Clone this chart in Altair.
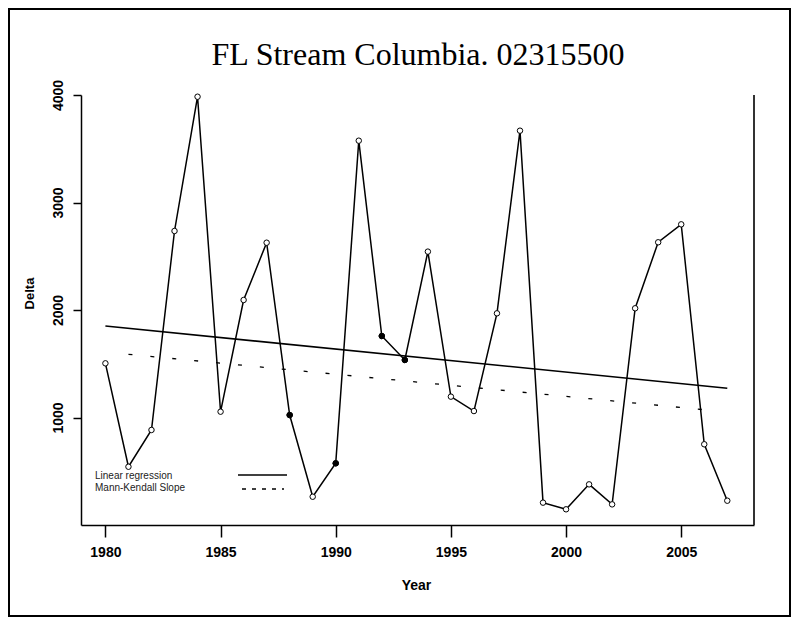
import altair as alt
import pandas as pd

# ---- data ----
years = list(range(1980, 2008))
delta = [1504, 542, 884, 2735, 3984, 1054, 2093, 2626, 1023, 263,
         574, 3575, 1758, 1535, 2543, 1194, 1060, 1969, 3668, 208,
         146, 378, 192, 2016, 2630, 2797, 751, 226]
filled_years = [1988, 1990, 1992, 1993]
linreg_years = [1980, 2007]
linreg_vals = [1851, 1272]
mk_years = [1981, 2006.6]
mk_vals = [1588, 1060]
x_ticks = [1980, 1985, 1990, 1995, 2000, 2005]
y_ticks = [1000, 2000, 3000, 4000]
legend_labels = ["Linear regression", "Mann-Kendall Slope"]
title_text = "FL Stream Columbia. 02315500"

df = pd.DataFrame({"year": years, "delta": delta})
df_f = df[df["year"].isin(filled_years)]
df_lr = pd.DataFrame({"year": linreg_years, "delta": linreg_vals})
df_mk = pd.DataFrame({"year": mk_years, "delta": mk_vals})

W, H = 673, 430
PAD = {"left": 73, "top": 87, "right": 37, "bottom": 92}

xs = alt.Scale(domain=[1978.94, 2008.16], nice=False, zero=False)
ys = alt.Scale(domain=[0, 4000], nice=False)
FONT = "Liberation Sans"

x_enc = alt.X("year:Q", scale=xs, axis=alt.Axis(
    values=x_ticks, format="d", title="Year", grid=False,
    labelFont=FONT, labelFontSize=14, labelFontWeight="bold", labelColor="black",
    tickSize=12, tickColor="black", tickWidth=1.5, labelPadding=8,
    domainColor="black", domainWidth=1.5,
    titleFont=FONT, titleFontSize=14, titleFontWeight="bold", titleColor="black",
    titleX=335, titleY=60, titleBaseline="middle", titleAlign="center"))
y_enc = alt.Y("delta:Q", scale=ys, axis=alt.Axis(
    values=y_ticks, format="d", title="Delta", grid=False,
    labelFont=FONT, labelFontSize=14, labelFontWeight="bold", labelColor="black",
    labelAngle=270, labelAlign="center", labelBaseline="bottom",
    tickSize=8, tickColor="black", tickWidth=1.5, labelPadding=8,
    domainColor="black", domainWidth=1.5,
    titleFont=FONT, titleFontSize=13, titleFontWeight="bold", titleColor="black",
    titleAngle=270, titleX=-52, titleY=198, titleBaseline="middle", titleAlign="center"))

line = alt.Chart(df).mark_line(color="black", strokeWidth=1.5).encode(x=x_enc, y=y_enc)
pts = alt.Chart(df).mark_point(shape="circle", filled=True, fill="white", stroke="black",
                               strokeWidth=1, size=30, opacity=1).encode(x="year:Q", y="delta:Q")
pts_f = alt.Chart(df_f).mark_point(shape="circle", filled=True, fill="black", stroke="black",
                                   strokeWidth=1, size=30, opacity=1).encode(x="year:Q", y="delta:Q")
lr = alt.Chart(df_lr).mark_line(color="black", strokeWidth=1.6).encode(x="year:Q", y="delta:Q")
mk = alt.Chart(df_mk).mark_line(color="black", strokeWidth=1.3, strokeDash=[4, 18]).encode(
    x="year:Q", y="delta:Q")

right_frame = alt.Chart().mark_rule(color="#333333", strokeWidth=2).encode(
    x=alt.value(W), y=alt.value(0), y2=alt.value(H))
border = alt.Chart().mark_rect(fill=None, stroke="black", strokeWidth=2).encode(
    x=alt.value(-PAD["left"] + 1), x2=alt.value(W + PAD["right"] - 1),
    y=alt.value(-PAD["top"] + 1), y2=alt.value(H + PAD["bottom"] - 1))

title_mark = alt.Chart().mark_text(align="center", baseline="alphabetic",
                                   font="Liberation Serif", fontSize=32,
                                   color="black").encode(
    x=alt.value(337), y=alt.value(-30), text=alt.value(title_text))

leg_t1 = alt.Chart().mark_text(align="left", baseline="middle", font=FONT, fontSize=10,
                               color="#222222").encode(
    x=alt.value(14), y=alt.value(381), text=alt.value(legend_labels[0]))
leg_t2 = alt.Chart().mark_text(align="left", baseline="middle", font=FONT, fontSize=10,
                               color="#222222").encode(
    x=alt.value(14), y=alt.value(393), text=alt.value(legend_labels[1]))
leg_l1 = alt.Chart().mark_rule(color="black", strokeWidth=1.5).encode(
    x=alt.value(157), x2=alt.value(206), y=alt.value(380))
leg_l2 = alt.Chart().mark_rule(color="black", strokeWidth=1.3, strokeDash=[4, 6]).encode(
    x=alt.value(161), x2=alt.value(203), y=alt.value(394))

chart = alt.layer(line, lr, mk, pts, pts_f, right_frame, border, title_mark,
                  leg_t1, leg_t2, leg_l1, leg_l2).properties(
    width=W, height=H,
    padding=PAD,
    autosize=alt.AutoSizeParams(type="none"),
    background="white",
).configure_view(stroke=None)

chart.save("out.html", embed_options={"renderer": "svg", "actions": False})
